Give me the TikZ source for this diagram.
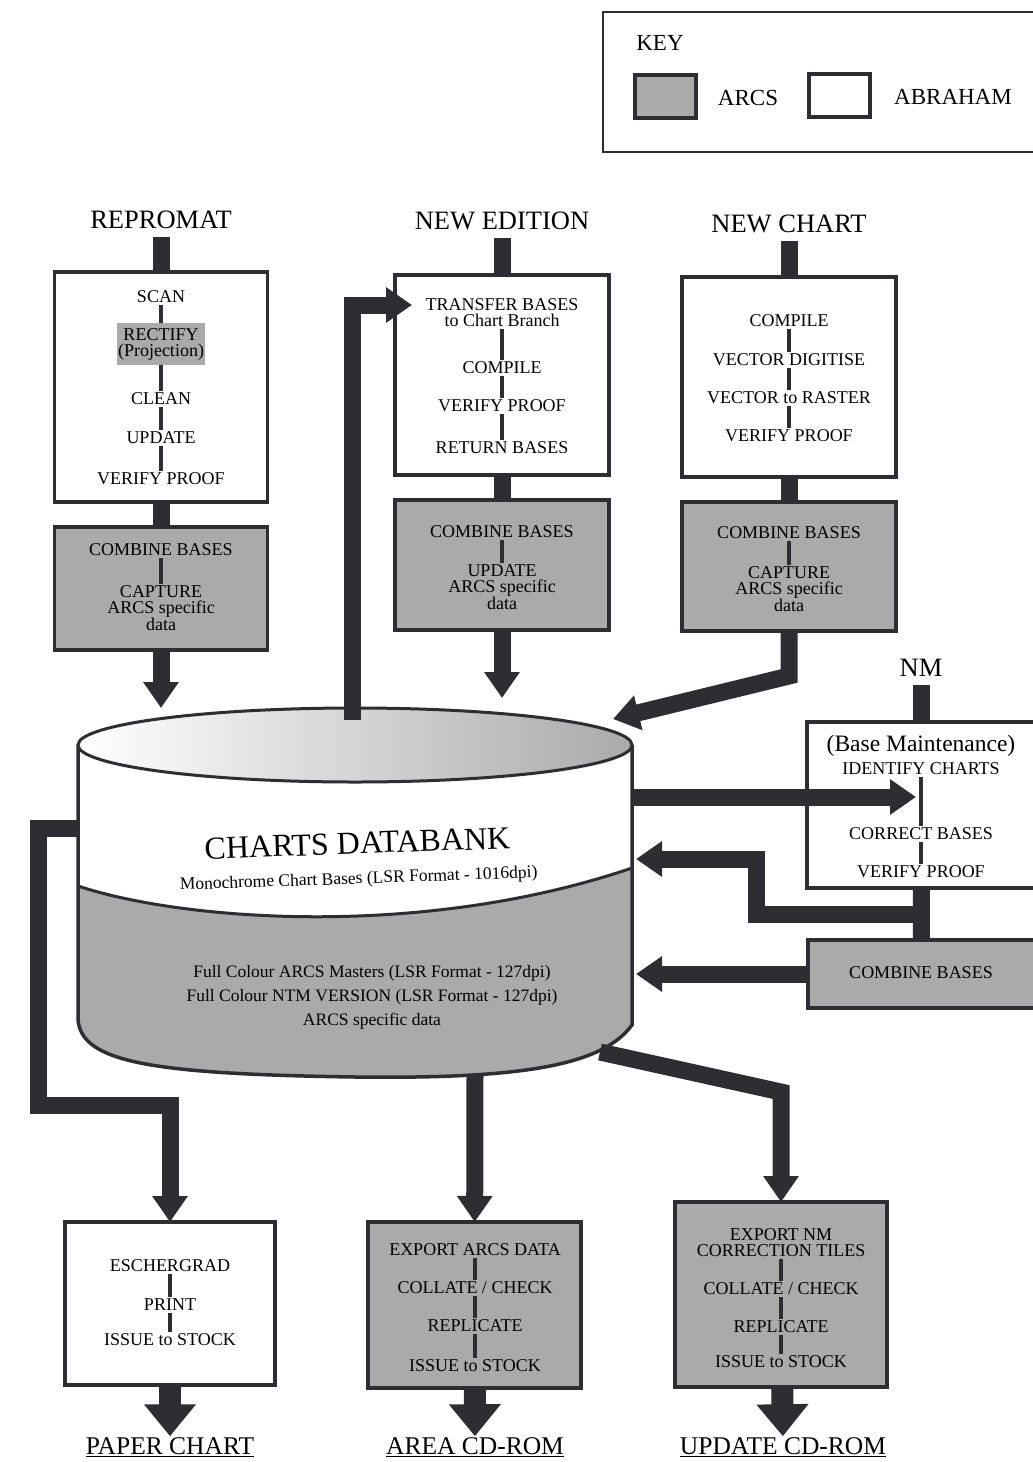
\documentclass[tikz,border=0pt]{standalone}
\usepackage{fontspec}
\setmainfont{Liberation Serif}
\usetikzlibrary{arrows.meta}

\definecolor{ink}{RGB}{45,45,50}
\definecolor{arcsgray}{RGB}{170,170,170}

\tikzset{
  arcs/.style={draw=ink, line width=3.5pt, fill=arcsgray, inner sep=0pt, outer sep=0pt, anchor=north west},
  abraham/.style={draw=ink, line width=3.5pt, fill=white, inner sep=0pt, outer sep=0pt, anchor=north west},
  task/.style={inner sep=1.5pt, align=center, text=black, font=\fontsize{18}{16}\selectfont},
  title/.style={inner sep=2pt, outer sep=6pt, font=\fontsize{26.5}{28}\selectfont},
  product/.style={inner sep=1pt, font=\fontsize{25.5}{27}\selectfont},
  keytext/.style={inner sep=1pt, font=\fontsize{23}{25}\selectfont},
  link/.style={draw=ink, line width=3.5pt},
  feed/.style={draw=ink, line width=17pt},
  flow/.style={draw=ink, line width=17pt, line join=miter, -{Triangle[length=26pt,width=34pt]}},
  outflow/.style={draw=ink, line width=22pt, -{Triangle[length=32pt,width=50pt]}},
}

\begin{document}
\begin{tikzpicture}[x=1pt,y=1pt,yscale=-1,xscale=1]
\useasboundingbox (0,0) rectangle (1033,1462);

%Shape: Key
\node[draw=ink, line width=2pt, minimum width=440, minimum height=140, anchor=north west, outer sep=0pt] (key) at (603,12) {};
\node[keytext] (key-title) at (660,43) {KEY};
\node[arcs, line width=4pt, minimum width=61, minimum height=43] (key-arcs) at (635,75) {};
\node[keytext] (key-arcs-lbl) at (748,98) {ARCS};
\node[abraham, line width=4pt, minimum width=61, minimum height=43] (key-abr) at (809,74) {};
\node[keytext] (key-abr-lbl) at (953,97) {ABRAHAM};

%Shape: Databank cylinder
\fill[arcsgray] (78,745) -- (78,1020) .. controls (82,1062) and (150,1074) .. (355,1077) .. controls (520,1079) and (602,1066) .. (632,1025) -- (632,745) -- cycle;
\fill[white] (78,745) -- (78,886) .. controls (180,920) and (420,940) .. (632,868) -- (632,745) -- cycle;
\draw[ink, line width=3pt] (78,886) .. controls (180,920) and (420,940) .. (632,868);
\draw[ink, line width=3.5pt] (78,745) -- (78,1020) .. controls (82,1062) and (150,1074) .. (355,1077) .. controls (520,1079) and (602,1066) .. (632,1025) -- (632,745);
\shade[draw=ink, line width=3pt, left color=white, right color=arcsgray] (355,745) ellipse [x radius=277, y radius=37];

% Text Node
\node[inner sep=1pt, rotate=2, align=center, font=\fontsize{17.5}{30}\selectfont] (databank) at (358,860) {{\fontsize{32}{34}\selectfont CHARTS DATABANK}\\Monochrome Chart Bases (LSR Format - 1016dpi)};
\node[inner sep=1pt, align=center, font=\fontsize{17.5}{24}\selectfont] (masters) at (372,997) {Full Colour ARCS Masters (LSR Format - 127dpi)\\Full Colour NTM VERSION (LSR Format - 127dpi)\\ARCS specific data};

%Shape: Repromat column
\node[title] (repromat) at (161,220) {REPROMAT};
\node[abraham, minimum width=213, minimum height=230] (repbox) at (54.5,272) {};
\node[task] (rp-scan) at (161,297) {SCAN};
\node[task, fill=arcsgray, minimum width=82, minimum height=42] (rp-rect) at (161,344) {RECTIFY\\(Projection)};
\node[task] (rp-clean) at (161,399) {CLEAN};
\node[task] (rp-update) at (161,438) {UPDATE};
\node[task] (rp-verify) at (161,479) {VERIFY PROOF};
\node[arcs, minimum width=213, minimum height=123] (repcomb) at (54.5,527) {};
\node[task] (rp-combine) at (161,550) {COMBINE BASES};
\node[task] (rp-capture) at (161,608) {CAPTURE\\ARCS specific\\data};

%Shape: New edition column
\node[title] (newedition) at (502,221) {NEW EDITION};
\node[abraham, minimum width=214, minimum height=200] (nebox) at (395,275) {};
\node[task] (ne-transfer) at (502,313) {TRANSFER BASES\\to Chart Branch};
\node[task] (ne-compile) at (502,368) {COMPILE};
\node[task] (ne-verify) at (502,406) {VERIFY PROOF};
\node[task] (ne-return) at (502,448) {RETURN BASES};
\node[arcs, minimum width=214, minimum height=130] (necomb) at (395,500) {};
\node[task] (ne-combine) at (502,532) {COMBINE BASES};
\node[task] (ne-update) at (502,587) {UPDATE\\ARCS specific\\data};

%Shape: New chart column
\node[title] (newchart) at (789,224) {NEW CHART};
\node[abraham, minimum width=214, minimum height=200] (ncbox) at (682,277) {};
\node[task] (nc-compile) at (789,321) {COMPILE};
\node[task] (nc-digitise) at (789,360) {VECTOR DIGITISE};
\node[task] (nc-raster) at (789,398) {VECTOR to RASTER};
\node[task] (nc-verify) at (789,436) {VERIFY PROOF};
\node[arcs, minimum width=214, minimum height=129] (nccomb) at (682,502) {};
\node[task] (nc-combine) at (789,533) {COMBINE BASES};
\node[task] (nc-capture) at (789,589) {CAPTURE\\ARCS specific\\data};

%Shape: NM column
\node[title] (nm) at (921,668) {NM};
\node[abraham, minimum width=228, minimum height=166] (nmbox) at (807,722) {};
\node[task, font=\fontsize{23.5}{25}\selectfont] (nm-maint) at (921,746) {(Base Maintenance)};
\node[task] (nm-identify) at (921,769) {IDENTIFY CHARTS};
\node[task] (nm-correct) at (921,834) {CORRECT BASES};
\node[task] (nm-verify) at (921,872) {VERIFY PROOF};
\node[arcs, minimum width=227, minimum height=68] (nmcomb) at (808,940) {};
\node[task] (nm-combine) at (921,973) {COMBINE BASES};

%Shape: Output boxes
\node[abraham, minimum width=210, minimum height=163] (paper) at (65,1222) {};
\node[task] (pc-escher) at (170,1266) {ESCHERGRAD};
\node[task] (pc-print) at (170,1305) {PRINT};
\node[task] (pc-issue) at (170,1340) {ISSUE to STOCK};
\node[arcs, minimum width=213, minimum height=166] (area) at (368,1222) {};
\node[task] (ar-export) at (475,1250) {EXPORT ARCS DATA};
\node[task] (ar-collate) at (475,1288) {COLLATE / CHECK};
\node[task] (ar-replicate) at (475,1326) {REPLICATE};
\node[task] (ar-issue) at (475,1366) {ISSUE to STOCK};
\node[arcs, minimum width=212, minimum height=185] (update) at (675,1202) {};
\node[task] (ud-export) at (781,1243) {EXPORT NM\\CORRECTION TILES};
\node[task] (ud-collate) at (781,1289) {COLLATE / CHECK};
\node[task] (ud-replicate) at (781,1327) {REPLICATE};
\node[task] (ud-issue) at (781,1362) {ISSUE to STOCK};

% Text Node
\node[product] (paper-lbl) at (170,1447) {\underline{PAPER CHART}};
\node[product] (area-lbl) at (475,1447) {\underline{AREA CD-ROM}};
\node[product] (update-lbl) at (783,1447) {\underline{UPDATE CD-ROM}};

% steps inside the boxes
\draw[link] (rp-scan) -- (rp-rect) -- (rp-clean) -- (rp-update) -- (rp-verify);
\draw[link] (rp-combine) -- (rp-capture);
\draw[link] (ne-transfer) -- (ne-compile) -- (ne-verify) -- (ne-return);
\draw[link] (ne-combine) -- (ne-update);
\draw[link] (nc-compile) -- (nc-digitise) -- (nc-raster) -- (nc-verify);
\draw[link] (nc-combine) -- (nc-capture);
\draw[link] (nm-identify) -- (nm-correct) -- (nm-verify);
\draw[link] (pc-escher) -- (pc-print) -- (pc-issue);
\draw[link] (ar-export) -- (ar-collate) -- (ar-replicate) -- (ar-issue);
\draw[link] (ud-export) -- (ud-collate) -- (ud-replicate) -- (ud-issue);

% end points on the databank
\coordinate (db-in-rep) at (161,708);
\coordinate (db-in-ne) at (502,698);
\coordinate (nc-bend) at (789,676);
\coordinate (db-in-nc) at (613,719);
\coordinate (db-loop) at (352,720);
\coordinate (ne-in) at (412,305);
\coordinate (db-out-nm) at (632,797);
\coordinate (nm-in) at (916,797);
\coordinate (nm-split) at (921,914);
\coordinate (nm-bend) at (756,914);
\coordinate (db-in-nm1) at (636,859);
\coordinate (db-in-nm2) at (636,974);
\coordinate (db-out-pc) at (78,828);
\coordinate (pc-corner) at (38,1105);
\coordinate (db-out-area) at (475,1076);
\coordinate (db-out-ud) at (600,1052);
\coordinate (ud-bend) at (781,1092);

% feeds and flows
\draw[feed] (repromat) -- (repbox);
\draw[feed] (repbox) -- (repcomb);
\draw[feed] (newedition) -- (nebox);
\draw[feed] (nebox) -- (necomb);
\draw[feed] (newchart) -- (ncbox);
\draw[feed] (ncbox) -- (nccomb);
\draw[feed] (nm) -- (nmbox);
\draw[feed] (nmbox) -- (nmcomb);

\draw[flow] (repcomb) -- (db-in-rep);
\draw[flow] (necomb) -- (db-in-ne);
\draw[flow] (nccomb) -- (nc-bend) -- (db-in-nc);
\draw[flow] (db-loop) |- (ne-in);
\draw[flow] (db-out-nm) -- (nm-in);
\draw[flow] (nm-split) -- (nm-bend) |- (db-in-nm1);
\draw[flow] (nmcomb) -- (db-in-nm2);
\draw[flow] (db-out-pc) -| (pc-corner) -| (paper);
\draw[flow] (db-out-area) -- (area);
\draw[flow] (db-out-ud) -- (ud-bend) -- (update);

\draw[outflow] (paper) -- (paper-lbl);
\draw[outflow] (area) -- (area-lbl);
\draw[outflow] (update) -- (update-lbl);

\end{tikzpicture}
\end{document}
